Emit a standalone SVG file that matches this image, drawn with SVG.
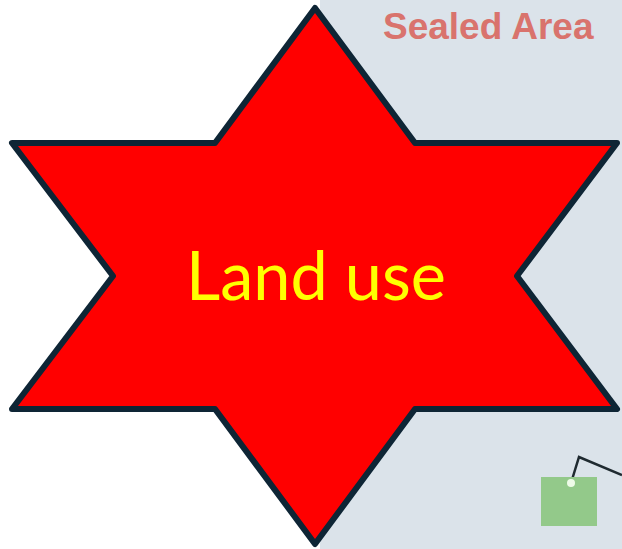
<svg xmlns="http://www.w3.org/2000/svg" width="622" height="549" viewBox="0 0 622 549">
<style>
.bg{fill:#dbe3ea}
.star{fill:#ff0000;stroke:#0e2535;stroke-width:6;stroke-linejoin:round}
.title{font-family:"Liberation Sans",Arial,sans-serif;font-weight:bold;font-size:37px;fill:#d9736d}
.label{font-family:Lato,"Open Sans",sans-serif;font-size:67px;fill:#ffff00}
.conn{fill:none;stroke:#1f2a30;stroke-width:2.5}
</style>
<rect width="622" height="549" fill="#ffffff"/>
<rect class="bg" x="320" y="0" width="302" height="549"/>
<text class="title" x="383" y="39">Sealed Area</text>
<g id="connectors">
<path class="conn" d="M571,483 L579,457 L622,475"/>
</g>
<g id="green-box">
<rect x="541" y="477" width="56" height="49" fill="#93c98a"/>
<circle cx="571" cy="483" r="4" fill="#eefbe8"/>
</g>
<g id="land-use">
<polygon class="star" points="315,8 415,143 617,143 517,276 617,409 415,409 315,544 215,409 12,409 113,276 12,143 215,143"/>
<text class="label" x="186" y="300" textLength="260" lengthAdjust="spacingAndGlyphs">Land use</text>
</g>
</svg>
